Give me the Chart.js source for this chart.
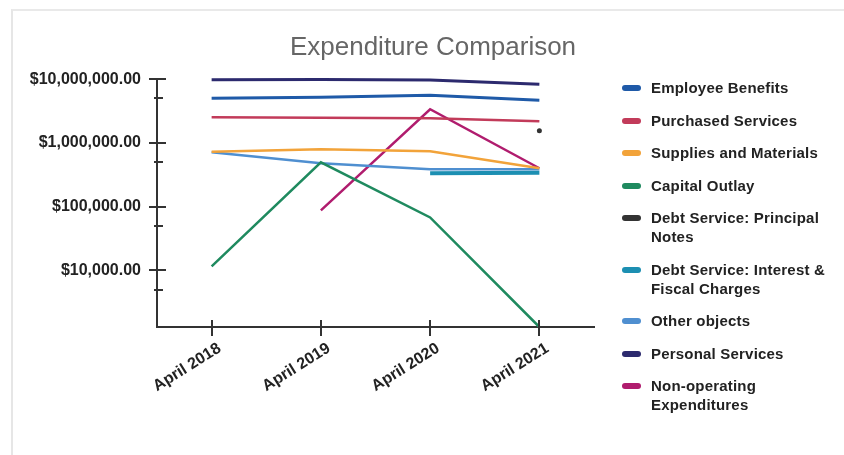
<!DOCTYPE html>
<html>
<head>
<meta charset="utf-8">
<script src="https://cdn.jsdelivr.net/npm/chart.js"></script>
<style>
  html, body { margin: 0; padding: 0; background: #fff; overflow: hidden; }
  body { width: 844px; height: 455px; position: relative; }
  #card {
    position: absolute; left: 11px; top: 9px; width: 841px; height: 446px;
    border-left: 2px solid #e6e6e6; border-top: 2px solid #e9e9e9;
  }
  #wrap { position: absolute; left: 0; top: 0; width: 840px; height: 445px; }
  #legend {
    position: absolute; left: 609px; top: 67px; width: 212px;
    font-family: "Liberation Sans", Arial, sans-serif; font-weight: bold;
    font-size: 15px; letter-spacing: 0.2px; color: #222; line-height: 19px;
  }
  .item { position: relative; padding-left: 29px; margin-bottom: 13.5px; }
  .swatch { position: absolute; left: 0; top: 7px; width: 19px; height: 6px; border-radius: 3px; }
</style>
</head>
<body>
<div id="card">
  <div id="wrap"><canvas id="chart"></canvas></div>
  <div id="legend"></div>
</div>
<script>
// categories and series (log axis)
var categories = ["April 2018", "April 2019", "April 2020", "April 2021"];

var employeeBenefits   = [5030000, 5200000, 5600000, 4680000];
var purchasedServices  = [2530000, 2480000, 2440000, 2190000];
var suppliesMaterials  = [730000, 796000, 741000, 401000];
var capitalOutlay      = [11600, 498000, 68000, 1300];
var debtPrincipal      = [null, null, null, 1560000];
var debtInterest       = [null, null, 334000, 340000];
var otherObjects       = [715000, 480000, 387000, 387000];
var personalServices   = [9800000, 9850000, 9700000, 8350000];
var nonOperating       = [null, 87800, 3380000, 401000];

var yTicks = [5000, 10000, 50000, 100000, 500000, 1000000, 5000000, 10000000];
var yLabelled = [10000, 100000, 1000000, 10000000];
var yMin = 1300, yMax = 10000000;

var series = [
  { label: "Employee Benefits", data: employeeBenefits, color: "#1f5aa8", width: 3 },
  { label: "Purchased Services", data: purchasedServices, color: "#c23b5a", width: 2.5 },
  { label: "Supplies and Materials", data: suppliesMaterials, color: "#f2a33a", width: 2.5 },
  { label: "Capital Outlay", data: capitalOutlay, color: "#1f8a5f", width: 2.5 },
  { label: "Debt Service: Principal Notes", data: debtPrincipal, color: "#333333", width: 2.5, dot: 2.5 },
  { label: "Debt Service: Interest & Fiscal Charges", data: debtInterest, color: "#1c8fb2", width: 4 },
  { label: "Other objects", data: otherObjects, color: "#4f8fd0", width: 2.5 },
  { label: "Personal Services", data: personalServices, color: "#2c2a6e", width: 3 },
  { label: "Non-operating Expenditures", data: nonOperating, color: "#b01c6e", width: 2.5 }
];

var FONT = "'Liberation Sans', Arial, sans-serif";

function money(v) {
  return "$" + v.toLocaleString("en-US", { minimumFractionDigits: 2, maximumFractionDigits: 2 });
}

// tick marks that cross the axis lines
var crossTicks = {
  id: "crossTicks",
  afterDraw: function(chart) {
    var ctx = chart.ctx, x = chart.scales.x, y = chart.scales.y;
    ctx.save();
    ctx.strokeStyle = "#333";
    ctx.lineWidth = 2;
    ctx.beginPath();
    y.ticks.forEach(function(t, i) {
      var py = Math.round(y.getPixelForTick(i));
      var major = yLabelled.indexOf(t.value) >= 0;
      ctx.moveTo(y.right - (major ? 8 : 3), py);
      ctx.lineTo(y.right + (major ? 9 : 6), py);
    });
    x.ticks.forEach(function(t, i) {
      var px = Math.round(x.getPixelForTick(i));
      ctx.moveTo(px, x.top - 7);
      ctx.lineTo(px, x.top + 9);
    });
    ctx.stroke();
    ctx.restore();
  }
};

var chart = new Chart(document.getElementById("chart"), {
  type: "line",
  data: {
    labels: categories,
    datasets: series.map(function(s) {
      return {
        label: s.label,
        data: s.data,
        borderColor: s.color,
        backgroundColor: s.color,
        borderWidth: s.width,
        pointRadius: s.dot || 0,
        pointBorderWidth: 0,
        tension: 0,
        fill: false,
        clip: false
      };
    })
  },
  options: {
    responsive: true,
    maintainAspectRatio: false,
    animation: false,
    events: [],
    layout: { padding: 0 },
    plugins: {
      legend: { display: false },
      tooltip: { enabled: false },
      title: {
        display: true,
        text: "Expenditure Comparison",
        color: "#666",
        font: { family: FONT, size: 26, weight: "normal" },
        padding: { top: 21, bottom: 16 }
      }
    },
    scales: {
      x: {
        type: "category",
        offset: true,
        grid: { display: false, drawTicks: false, offset: true },
        border: { display: true, color: "#333", width: 2 },
        ticks: {
          color: "#222",
          font: { family: FONT, size: 16, weight: "bold" },
          minRotation: 32, maxRotation: 32,
          padding: 12,
          labelOffset: 8
        },
        afterFit: function(s) { s.height = 129; }
      },
      y: {
        type: "logarithmic",
        min: yMin,
        max: yMax,
        grid: { display: false, drawTicks: false },
        border: { display: true, color: "#333", width: 2 },
        afterBuildTicks: function(s) {
          s.ticks = yTicks.map(function(v) { return { value: v }; });
        },
        ticks: {
          color: "#222",
          font: { family: FONT, size: 16, weight: "bold" },
          padding: 16,
          autoSkip: false,
          callback: function(v) {
            return yLabelled.indexOf(v) >= 0 ? money(v) : "";
          }
        },
        afterFit: function(s) { s.width = 144; }
      },
      pad: {
        type: "linear",
        position: "right",
        grid: { display: false, drawTicks: false },
        border: { display: false },
        ticks: { display: false },
        afterFit: function(s) { s.width = 259; }
      }
    }
  },
  plugins: [crossTicks]
});

// legend built from the same series list
var legend = document.getElementById("legend");
series.forEach(function(s) {
  var item = document.createElement("div");
  item.className = "item";
  var sw = document.createElement("span");
  sw.className = "swatch";
  sw.style.background = s.color;
  item.appendChild(sw);
  item.appendChild(document.createTextNode(s.label));
  legend.appendChild(item);
});
</script>
</body>
</html>
